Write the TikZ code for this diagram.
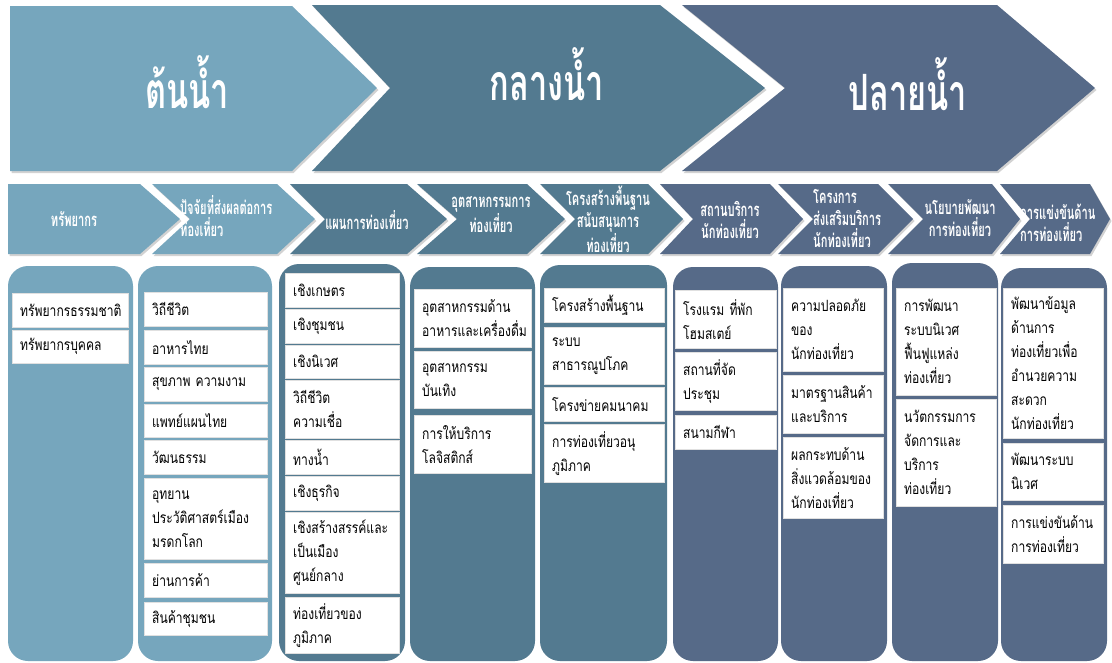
\documentclass[tikz,border=0pt]{standalone}
\usepackage{fontspec}
\newfontfamily\thaicell[Script=Thai,FakeStretch=0.78]{Loma}
\newfontfamily\thaicond[Script=Thai,FakeStretch=0.65]{Loma}
\newfontfamily\thaihead[Script=Thai,FakeStretch=0.6]{Loma}
\usetikzlibrary{shadows}

\definecolor{upblue}{RGB}{118,166,189}
\definecolor{midblue}{RGB}{83,122,144}
\definecolor{lowblue}{RGB}{86,106,136}

\tikzset{
  chev/.style={fill=#1, drop shadow={opacity=.35, shadow xshift=1.5pt, shadow yshift=-2pt}},
  title/.style={text=white, anchor=base, font=\thaicond\bfseries\fontsize{50}{50}\selectfont},
  head/.style={text=white, inner sep=0pt, font=\thaihead\bfseries\fontsize{18.5}{22}\selectfont},
  col/.style={fill=#1, rounded corners=20pt},
  cell/.style={fill=white, draw=black!12, anchor=north west, text width=#1, align=left,
    inner xsep=8pt, inner ysep=0pt, font=\thaicell\fontsize{15.5}{24}\selectfont}
}

\begin{document}
\begin{tikzpicture}[x=1pt, y=-1pt]
\fill[white] (0,0) rectangle (1112,662);
\useasboundingbox (0,0) rectangle (1112,662);

\fill[chev=upblue] (10,6) -- (292,6) -- (377,88) -- (292,171) -- (10,171) -- cycle;
\fill[chev=midblue] (312,5) -- (660,5) -- (765,88) -- (660,171) -- (312,171) -- (390,88) -- cycle;
\fill[chev=lowblue] (682,5) -- (997,5) -- (1095,88) -- (997,171) -- (682,171) -- (785,88) -- cycle;
\node[title] (up) at (187,108) {ต้นน้ำ};
\node[title] (mid) at (547,100) {กลางน้ำ};
\node[title] (low) at (908,110) {ปลายน้ำ};

\foreach \l/\n/\r/\p/\c in {8/8/140/180/upblue, 152/190/277/315/upblue, 290/325/407/447/midblue,
    417/457/527/565/midblue, 540/575/648/683/midblue, 660/693/770/803/lowblue,
    778/813/878/913/lowblue, 888/923/992/1020/lowblue, 1000/1030/1090/1110/lowblue}
  \fill[chev=\c] (\l,184) -- (\r,184) -- (\p,219) -- (\r,254) -- (\l,254) -- (\n,219) -- cycle;

\node[head] (h1) at (74,219) {ทรัพยากร};
\node[head, anchor=west, align=left] (h2) at (180,216) {ปัจจัยที่ส่งผลต่อการ\\ท่องเที่ยว};
\node[head] (h3) at (367,220) {แผนการท่องเที่ยว};
\node[head, align=center] (h4) at (491,215) {อุตสาหกรรมการ\\ท่องเที่ยว};
\node[head, align=center] (h5) at (608,219) {โครงสร้างพื้นฐาน\\สนับสนุนการ\\ท่องเที่ยว};
\node[head, align=center] (h6) at (730,220) {สถานบริการ\\นักท่องเที่ยว};
\node[head, anchor=west, align=left] (h7) at (813,218) {โครงการ\\ส่งเสริมบริการ\\นักท่องเที่ยว};
\node[head, align=center] (h8) at (960,218) {นโยบายพัฒนา\\การท่องเที่ยว};
\node[head, anchor=west, align=left] (h9) at (1020,223) {การแข่งขันด้าน\\การท่องเที่ยว};

\foreach \l/\r/\t/\c in {8/133/266/upblue, 138/272/266/upblue, 279/405/264/midblue,
    410/535/267/midblue, 540/667/265/midblue, 673/778/267/lowblue,
    781/887/266/lowblue, 892/998/263/lowblue, 1001/1107/268/lowblue}
  \fill[col=\c] (\l,\t) rectangle (\r,661);

\foreach \t/\b/\s [count=\i] in {293/327/ทรัพยากรธรรมชาติ, 330/363/ทรัพยากรบุคคล}
  \node[cell=100pt, minimum height={(\b-\t)*1pt}] (a\i) at (12,\t) {\s};

\foreach \t/\b/\s [count=\i] in {292/326/วิถีชีวิต, 330/364/อาหารไทย, 367/401/สุขภาพ ความงาม,
    404/437/แพทย์แผนไทย, 440/474/วัฒนธรรม, 478/559/{อุทยาน\\ประวัติศาสตร์เมือง\\มรดกโลก},
    563/597/ย่านการค้า, 602/635/สินค้าชุมชน}
  \node[cell=107pt, minimum height={(\b-\t)*1pt}] (b\i) at (144,\t) {\s};

\foreach \t/\b/\s [count=\i] in {273/307/เชิงเกษตร, 309/343/เชิงชุมชน, 345/378/เชิงนิเวศ,
    380/438/{วิถีชีวิต\\ความเชื่อ}, 440/474/ทางน้ำ, 476/510/เชิงธุรกิจ,
    512/593/{เชิงสร้างสรรค์และ\\เป็นเมือง\\ศูนย์กลาง}, 597/653/{ท่องเที่ยวของ\\ภูมิภาค}}
  \node[cell=98pt, minimum height={(\b-\t)*1pt}] (c\i) at (285,\t) {\s};

\foreach \t/\b/\s [count=\i] in {289/347/{อุตสาหกรรมด้าน\\อาหารและเครื่องดื่ม},
    351/408/{อุตสาหกรรม\\บันเทิง}, 415/473/{การให้บริการ\\โลจิสติกส์}}
  \node[cell=101pt, minimum height={(\b-\t)*1pt}] (d\i) at (414,\t) {\s};

\foreach \t/\b/\s [count=\i] in {288/322/โครงสร้างพื้นฐาน, 327/384/{ระบบ\\สาธารณูปโภค},
    387/421/โครงข่ายคมนาคม, 424/482/{การท่องเที่ยวอนุ\\ภูมิภาค}}
  \node[cell=104pt, minimum height={(\b-\t)*1pt}] (e\i) at (544,\t) {\s};

\foreach \t/\b/\s [count=\i] in {290/348/{โรงแรม ที่พัก\\โฮมสเตย์}, 352/410/{สถานที่จัด\\ประชุม},
    415/449/สนามกีฬา}
  \node[cell=85pt, minimum height={(\b-\t)*1pt}] (f\i) at (675,\t) {\s};

\foreach \t/\b/\s [count=\i] in {288/371/{ความปลอดภัย\\ของ\\นักท่องเที่ยว},
    375/433/{มาตรฐานสินค้า\\และบริการ}, 437/518/{ผลกระทบด้าน\\สิ่งแวดล้อมของ\\นักท่องเที่ยว}}
  \node[cell=84pt, minimum height={(\b-\t)*1pt}] (g\i) at (783,\t) {\s};

\foreach \t/\b/\s [count=\i] in {288/395/{การพัฒนา\\ระบบนิเวศ\\ฟื้นฟูแหล่ง\\ท่องเที่ยว},
    399/506/{นวัตกรรมการ\\จัดการและ\\บริการ\\ท่องเที่ยว}}
  \node[cell=84pt, minimum height={(\b-\t)*1pt}] (k\i) at (896,\t) {\s};

\foreach \t/\b/\s [count=\i] in {288/438/{พัฒนาข้อมูล\\ด้านการ\\ท่องเที่ยวเพื่อ\\อำนวยความ\\สะดวก\\นักท่องเที่ยว},
    443/500/{พัฒนาระบบ\\นิเวศ}, 505/563/{การแข่งขันด้าน\\การท่องเที่ยว}}
  \node[cell=84pt, minimum height={(\b-\t)*1pt}] (m\i) at (1003,\t) {\s};
\end{tikzpicture}
\end{document}
